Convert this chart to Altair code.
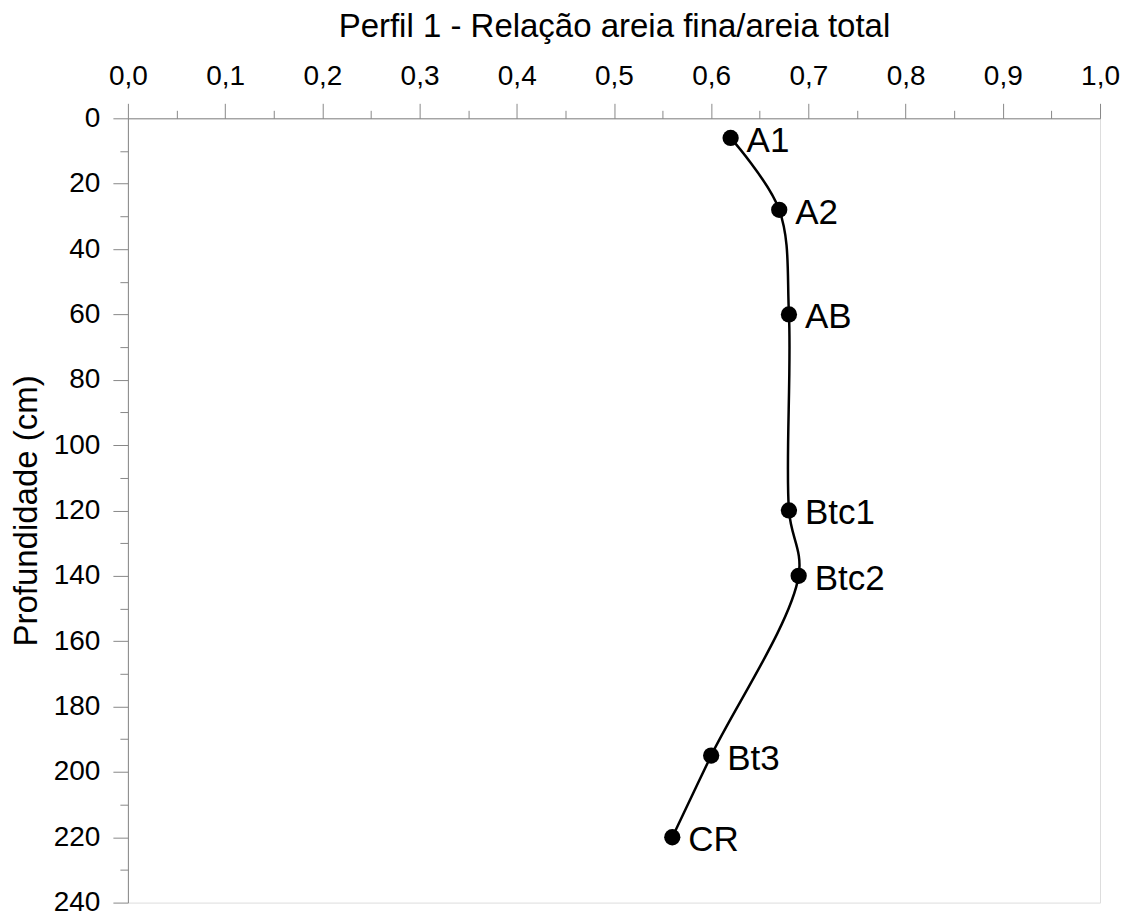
import altair as alt
import pandas as pd

horizons = ["A1", "A2", "AB", "Btc1", "Btc2", "Bt3", "CR"]
depth_cm = [6, 28, 60, 120, 140, 195, 220]
ratio = [0.62, 0.67, 0.68, 0.68, 0.69, 0.60, 0.56]

x_ticks = [round(i * 0.05, 2) for i in range(21)]
y_ticks = list(range(0, 241, 10))

df = pd.DataFrame({"horizonte": horizons, "prof": depth_cm, "rel": ratio})

FONT = "Liberation Sans"
MAJOR_X = "round(datum.value*100) % 10 == 0"

x_enc = alt.X(
    "rel:Q",
    scale=alt.Scale(domain=[0, 1], nice=False, zero=False),
    axis=alt.Axis(
        orient="top",
        title="Perfil 1 - Relação areia fina/areia total",
        values=x_ticks,
        labelExpr=MAJOR_X + " ? replace(format(datum.value, '.1f'), '.', ',') : ''",
        tickSize={"condition": {"test": MAJOR_X, "value": 15}, "value": 8},
        labelOverlap=False,
        labelFlush=False,
        labelPadding=13,
        labelFontSize=28,
        titleFontSize=33,
        titleFontWeight="normal",
        titlePadding=19,
        grid=False,
    ),
)

y_enc = alt.Y(
    "prof:Q",
    scale=alt.Scale(domain=[0, 240], reverse=True, nice=False, zero=False),
    axis=alt.Axis(
        orient="left",
        title="Profundidade (cm)",
        values=y_ticks,
        labelExpr="datum.value % 20 == 0 ? datum.label : ''",
        tickSize={"condition": {"test": "datum.value % 20 == 0", "value": 15}, "value": 8},
        labelOverlap=False,
        labelFlush=False,
        labelPadding=13,
        labelFontSize=28,
        titleFontSize=33,
        titleFontWeight="normal",
        titlePadding=10,
        grid=False,
    ),
)

base = alt.Chart(df).encode(x=x_enc, y=y_enc, order=alt.Order("prof:Q"))

line = base.mark_line(color="black", strokeWidth=2.5, interpolate="catmull-rom")
points = base.mark_circle(color="black", opacity=1, size=265)
labels = base.mark_text(
    align="left", baseline="middle", dx=16, dy=3, fontSize=35, font=FONT, color="black"
).encode(text="horizonte:N")

chart = (
    alt.layer(line, points, labels)
    .properties(
        width=973,
        height=785,
        autosize=alt.AutoSizeParams(type="none"),
        padding={"left": 120, "top": 110, "right": 25, "bottom": 10},
    )
    .configure_view(stroke="#333", strokeWidth=1.3)
    .configure_axis(
        domainColor="#333",
        domainWidth=1.3,
        tickColor="#333",
        tickWidth=1.3,
        labelColor="black",
        titleColor="black",
        labelFont=FONT,
        titleFont=FONT,
    )
    .configure(background="white")
)

chart.save("out.html", embed_options={"renderer": "svg", "actions": False})
